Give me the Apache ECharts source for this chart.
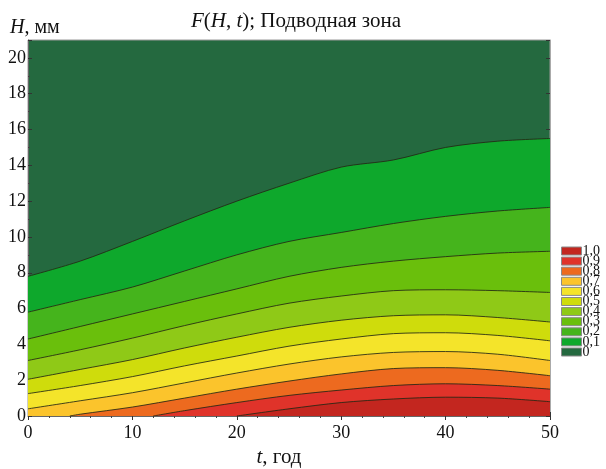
<!DOCTYPE html>
<html>
<head>
<meta charset="utf-8">
<script src="https://cdn.jsdelivr.net/npm/echarts@6/dist/echarts.min.js"></script>
<style>
  html, body { margin: 0; padding: 0; background: #fff; }
  #chart { width: 606px; height: 469px; }
</style>
</head>
<body>
<div id="chart"></div>
<script>
// Time grid (years) on which the contour boundaries are sampled
const T = [0, 5, 10, 15, 20, 25, 30, 35, 40, 45, 50];

// Depth H (mm) of each iso-line F = level along T
const iso00 = [7.8, 8.65, 9.75, 10.9, 12.0, 13.0, 13.9, 14.3, 15.0, 15.35, 15.5];
const iso01 = [5.8, 6.5, 7.2, 8.1, 9.0, 9.75, 10.25, 10.75, 11.15, 11.45, 11.65];
const iso02 = [4.3, 5.0, 5.7, 6.4, 7.1, 7.8, 8.3, 8.65, 8.9, 9.1, 9.2];
const iso03 = [3.1, 3.7, 4.35, 5.05, 5.7, 6.3, 6.7, 7.0, 7.05, 7.0, 6.9];
const iso04 = [2.05, 2.6, 3.15, 3.8, 4.4, 4.95, 5.35, 5.6, 5.65, 5.5, 5.25];
const iso05 = [1.25, 1.7, 2.2, 2.8, 3.35, 3.9, 4.3, 4.6, 4.65, 4.5, 4.2];
const iso06 = [0.4, 0.85, 1.3, 1.85, 2.4, 2.9, 3.3, 3.55, 3.6, 3.45, 3.1];
const iso07 = [null, 0.1, 0.5, 1.0, 1.5, 1.95, 2.35, 2.65, 2.7, 2.55, 2.25];
const iso08 = [null, null, null, 0.3, 0.75, 1.15, 1.45, 1.7, 1.8, 1.7, 1.5];
const iso09 = [null, null, null, null, null, 0.4, 0.75, 0.95, 1.05, 1.0, 0.8];

// Time where an iso-line leaves the H = 0 edge (null: it starts at t = 0)
const isoStart = [null, null, null, null, null, null, null, 4.0, 12.0, 20.0];

// Band labels and fills, from F = 0 (top) to F = 1,0 (bottom)
const bandLabels = ['0', '0,1', '0,2', '0,3', '0,4', '0,5', '0,6', '0,7', '0,8', '0,9', '1,0'];
const bandColors = ['#24693f', '#0ea82c', '#45b41c', '#6abf0c', '#8fc917', '#cfdc0c',
                    '#f4e42a', '#fbc42c', '#ed6a1f', '#e0332a', '#c3261f'];

const isoLines = [iso00, iso01, iso02, iso03, iso04, iso05, iso06, iso07, iso08, iso09];

const serif = 'Liberation Serif, Times New Roman, serif';

function buildPoints(values, start) {
  const pts = [];
  if (start !== null) pts.push([start, 0]);
  values.forEach((v, i) => { if (v !== null) pts.push([T[i], v]); });
  return pts;
}

// Each iso-line fills everything below it with the colour of the next band;
// later series paint over earlier ones, giving the stacked contour bands.
const series = [{
  name: bandLabels[0],
  type: 'line',
  data: [],
  color: bandColors[0],
  itemStyle: { color: bandColors[0] }
}];
isoLines.forEach((vals, k) => {
  const col = bandColors[k + 1];
  series.push({
    name: bandLabels[k + 1],
    type: 'line',
    data: buildPoints(vals, isoStart[k]),
    smooth: 0.3,
    showSymbol: false,
    symbol: 'none',
    color: col,
    itemStyle: { color: col },
    lineStyle: { color: 'rgba(35,40,20,0.85)', width: 1 },
    areaStyle: { color: col, opacity: 1, origin: 'start' },
    silent: true,
    animation: false
  });
});

const chart = echarts.init(document.getElementById('chart'), null, { renderer: 'canvas' });

const tickStyle = { lineStyle: { color: '#333', width: 1 } };
const italic = (size) => ({ i: { fontFamily: serif, fontSize: size, fontStyle: 'italic', color: '#111' } });

chart.setOption({
  animation: false,
  backgroundColor: '#ffffff',
  title: {
    text: '{i|F}({i|H}, {i|t}); Подводная зона',
    left: 291,
    textAlign: 'center',
    top: 6,
    textStyle: {
      fontFamily: serif, fontSize: 21, fontWeight: 'normal', color: '#111',
      rich: italic(21)
    }
  },
  legend: {
    orient: 'vertical',
    right: 1,
    top: 239,
    data: bandLabels.slice().reverse(),
    icon: 'rect',
    itemWidth: 20,
    itemHeight: 8,
    itemGap: -3.9,
    selectedMode: false,
    itemStyle: { borderColor: '#8a8a8a', borderWidth: 1 },
    textStyle: { fontFamily: serif, fontSize: 14, color: '#111', padding: [0, 0, 0, -4] }
  },
  grid: {
    left: 28, right: 56, top: 40, bottom: 53,
    outerBoundsMode: 'none',
    containLabel: false,
    show: true,
    backgroundColor: bandColors[0],
    borderColor: '#999',
    borderWidth: 1
  },
  xAxis: [{
    type: 'value',
    min: 0, max: 50, interval: 10,
    name: '{i|t}, год',
    nameLocation: 'middle',
    nameGap: 28,
    nameTextStyle: {
      fontFamily: serif, fontSize: 21, color: '#111', padding: [0, 20, 0, 0],
      rich: italic(21)
    },
    axisLine: { show: true, onZero: false, lineStyle: { color: '#666' } },
    axisTick: { inside: true, length: 4, ...tickStyle },
    minorTick: { show: true, splitNumber: 5, length: 2, lineStyle: { color: '#444' } },
    axisLabel: { fontFamily: serif, fontSize: 18, color: '#111', margin: 8 },
    splitLine: { show: false }
  }, {
    type: 'value', position: 'top',
    min: 0, max: 50, interval: 10,
    axisLine: { show: false },
    axisTick: { inside: true, length: 4, ...tickStyle },
    minorTick: { show: true, splitNumber: 5, length: 2, lineStyle: { color: '#444' } },
    axisLabel: { show: false },
    splitLine: { show: false }
  }],
  yAxis: [{
    type: 'value',
    min: 0, max: 21, interval: 2,
    name: '{i|H}, мм',
    nameLocation: 'end',
    nameGap: 2,
    nameTextStyle: {
      fontFamily: serif, fontSize: 20, color: '#111', align: 'left', padding: [0, 0, 0, -18],
      rich: italic(20)
    },
    axisLine: { show: true, onZero: false, lineStyle: { color: '#666' } },
    axisTick: { inside: true, length: 4, ...tickStyle },
    minorTick: { show: true, splitNumber: 2, length: 2, lineStyle: { color: '#444' } },
    axisLabel: { fontFamily: serif, fontSize: 18, color: '#111', margin: 2,
                 showMaxLabel: false },
    splitLine: { show: false }
  }, {
    type: 'value', position: 'right',
    min: 0, max: 21, interval: 2,
    axisLine: { show: true, onZero: false, lineStyle: { color: '#aaa' } },
    axisTick: { inside: true, length: 4, ...tickStyle },
    axisLabel: { show: false },
    splitLine: { show: false }
  }],
  series: series
});
</script>
</body>
</html>
